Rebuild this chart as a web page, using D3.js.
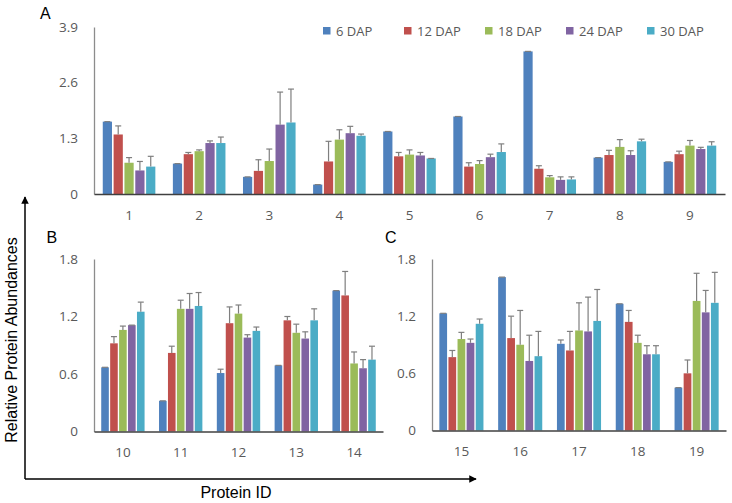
<!DOCTYPE html>
<html lang="en">
<head>
    <meta charset="UTF-8">
    <title>Relative Protein Abundances</title>
    <style>
        body { margin: 0; background: #fff; }
        .tick text { font-family: "Open Sans", sans-serif; font-size: 13.5px; fill: #595959; }
        .legend text { font-family: "Open Sans", sans-serif; font-size: 13px; fill: #595959; }
        .title { font-family: "Liberation Sans", Arial, sans-serif; font-size: 16px; fill: #000; }
    </style>
    <script src="https://cdn.jsdelivr.net/npm/d3@7"></script>
</head>
<body>
<svg class="chart" width="732" height="503"></svg>
<script>
    const series = ['6 DAP', '12 DAP', '18 DAP', '24 DAP', '30 DAP'],
        colors = ['#4F81BD', '#C0504D', '#9BBB59', '#8064A2', '#4BACC6'];

    // panel A, proteins 1-9 (one row per series)
    const idsA = ['1', '2', '3', '4', '5', '6', '7', '8', '9'],
        ticksA = [0, 1.3, 2.6, 3.9],
        valuesA = [
            [1.69, 0.71, 0.40, 0.22, 1.46, 1.81, 3.33, 0.85, 0.75],
            [1.39, 0.93, 0.54, 0.76, 0.88, 0.64, 0.59, 0.91, 0.93],
            [0.73, 1.00, 0.77, 1.27, 0.92, 0.70, 0.39, 1.10, 1.13],
            [0.55, 1.19, 1.62, 1.42, 0.90, 0.86, 0.33, 0.91, 1.05],
            [0.64, 1.19, 1.67, 1.36, 0.83, 0.98, 0.34, 1.23, 1.13]
        ],
        errorsA = [
            [0, 0, 0, 0, 0, 0, 0, 0, 0],
            [0.20, 0.04, 0.26, 0.47, 0.09, 0.09, 0.07, 0.11, 0.07],
            [0.12, 0.03, 0.28, 0.23, 0.11, 0.08, 0.04, 0.17, 0.12],
            [0.21, 0.05, 0.76, 0.16, 0.07, 0.07, 0.07, 0.10, 0.04],
            [0.24, 0.14, 0.78, 0.04, 0, 0.19, 0.06, 0.05, 0.09]
        ];

    // panel B, proteins 10-14
    const idsB = ['10', '11', '12', '13', '14'],
        ticksB = [0, 0.6, 1.2, 1.8],
        valuesB = [
            [0.67, 0.32, 0.61, 0.69, 1.47],
            [0.92, 0.82, 1.13, 1.16, 1.42],
            [1.06, 1.28, 1.23, 1.03, 0.71],
            [1.11, 1.28, 0.98, 0.97, 0.66],
            [1.25, 1.31, 1.05, 1.16, 0.75]
        ],
        errorsB = [
            [0, 0, 0.04, 0, 0],
            [0.07, 0.07, 0.17, 0.04, 0.25],
            [0.04, 0.09, 0.09, 0.09, 0.12],
            [0, 0.16, 0.03, 0.07, 0.09],
            [0.10, 0.14, 0.04, 0.12, 0.14]
        ];

    // panel C, proteins 15-19
    const idsC = ['15', '16', '17', '18', '19'],
        ticksC = [0, 0.6, 1.2, 1.8],
        valuesC = [
            [1.23, 1.61, 0.91, 1.33, 0.45],
            [0.77, 0.97, 0.84, 1.14, 0.60],
            [0.96, 0.90, 1.05, 0.92, 1.36],
            [0.92, 0.73, 1.04, 0.80, 1.24],
            [1.12, 0.78, 1.15, 0.80, 1.34]
        ],
        errorsC = [
            [0, 0, 0.04, 0, 0],
            [0.07, 0.23, 0.20, 0.12, 0.14],
            [0.07, 0.36, 0.29, 0.08, 0.29],
            [0.04, 0.27, 0.36, 0.09, 0.23],
            [0.05, 0.26, 0.33, 0.09, 0.32]
        ];

    const svg = d3.select('.chart');

    /**
     * one bar panel
     */
    function drawPanel(box, ids, ticks, values, errors, letter) {
        const x = d3.scaleBand().domain(ids).range([box.left, box.right])
                .paddingInner(0.25).paddingOuter(0.125),
            xs = d3.scaleBand().domain(series).range([0, x.bandwidth()]).paddingInner(0.15),
            y = d3.scaleLinear().domain([0, ticks[ticks.length - 1]]).range([box.bottom, box.top]);

        const g = svg.append('g');

        // y axis
        const yAxis = g.append('g')
            .attr('transform', 'translate(' + box.left + ',0)')
            .call(d3.axisLeft(y).tickValues(ticks).tickSize(0).tickPadding(16)
                .tickFormat(d => d === 0 ? '0' : d3.format('.1f')(d)));
        yAxis.select('.domain').attr('stroke', '#8c8c8c').attr('stroke-width', 1.3);

        // bars
        const rows = [];
        series.forEach((s, si) => ids.forEach((id, ci) => {
            rows.push({s: s, si: si, id: id, v: values[si][ci], e: errors[si][ci]});
        }));

        g.selectAll('rect.bar').data(rows).enter().append('rect')
            .attr('class', 'bar')
            .attr('x', d => x(d.id) + xs(d.s))
            .attr('width', xs.bandwidth())
            .attr('y', d => y(d.v))
            .attr('height', d => y(0) - y(d.v))
            .attr('fill', d => colors[d.si]);

        // error bars (upper only)
        const eb = g.selectAll('g.err').data(rows).enter().append('g')
            .attr('class', 'err')
            .attr('stroke', '#7f7f7f')
            .attr('stroke-width', 1.2);
        eb.append('line')
            .attr('x1', d => x(d.id) + xs(d.s) + xs.bandwidth() / 2)
            .attr('x2', d => x(d.id) + xs(d.s) + xs.bandwidth() / 2)
            .attr('y1', d => y(d.v))
            .attr('y2', d => y(d.v + d.e));
        eb.append('line')
            .attr('x1', d => x(d.id) + xs(d.s) + xs.bandwidth() / 2 - 3)
            .attr('x2', d => x(d.id) + xs(d.s) + xs.bandwidth() / 2 + 3)
            .attr('y1', d => y(d.v + d.e))
            .attr('y2', d => y(d.v + d.e));

        // x axis
        const xAxis = g.append('g')
            .attr('transform', 'translate(0,' + box.bottom + ')')
            .call(d3.axisBottom(x).tickSize(0).tickPadding(16));
        xAxis.select('.domain').attr('stroke', '#404040').attr('stroke-width', 1.5);

        g.append('text')
            .attr('class', 'title')
            .attr('x', box.lx)
            .attr('y', box.ly)
            .text(letter);
    }

    drawPanel({left: 94, right: 725, top: 27, bottom: 194, lx: 40, ly: 19}, idsA, ticksA, valuesA, errorsA, 'A');
    drawPanel({left: 94, right: 383, top: 259, bottom: 431.5, lx: 46.5, ly: 243}, idsB, ticksB, valuesB, errorsB, 'B');
    drawPanel({left: 432, right: 726, top: 259, bottom: 430.5, lx: 385, ly: 243}, idsC, ticksC, valuesC, errorsC, 'C');

    /**
     * legend
     */
    const legend = svg.append('g').attr('class', 'legend')
        .selectAll('g').data(series).enter().append('g')
        .attr('transform', (d, i) => 'translate(' + (323 + i * 81) + ',27)');
    legend.append('rect')
        .attr('width', 7.5).attr('height', 7.5)
        .attr('fill', (d, i) => colors[i]);
    legend.append('text')
        .attr('x', 13).attr('y', 8.5)
        .text(d => d);

    /**
     * shared axis titles with arrows
     */
    const defs = svg.append('defs');
    defs.append('marker')
        .attr('id', 'arrow')
        .attr('viewBox', '0 0 10 10')
        .attr('refX', 9).attr('refY', 5)
        .attr('markerWidth', 5).attr('markerHeight', 5)
        .attr('orient', 'auto')
        .append('path').attr('d', 'M0,0 L10,5 L0,10 z').attr('fill', '#000');

    svg.append('path')
        .attr('d', 'M25,479 L25,197')
        .attr('stroke', '#000').attr('stroke-width', 1.5).attr('fill', 'none')
        .attr('marker-end', 'url(#arrow)');
    svg.append('path')
        .attr('d', 'M25,479 L476,479')
        .attr('stroke', '#000').attr('stroke-width', 1.5).attr('fill', 'none')
        .attr('marker-end', 'url(#arrow)');

    svg.append('text')
        .attr('class', 'title')
        .attr('transform', 'translate(17,340) rotate(-90)')
        .attr('text-anchor', 'middle')
        .text('Relative Protein Abundances');

    svg.append('text')
        .attr('class', 'title')
        .attr('x', 236).attr('y', 498)
        .attr('text-anchor', 'middle')
        .text('Protein ID');
</script>
</body>
</html>
